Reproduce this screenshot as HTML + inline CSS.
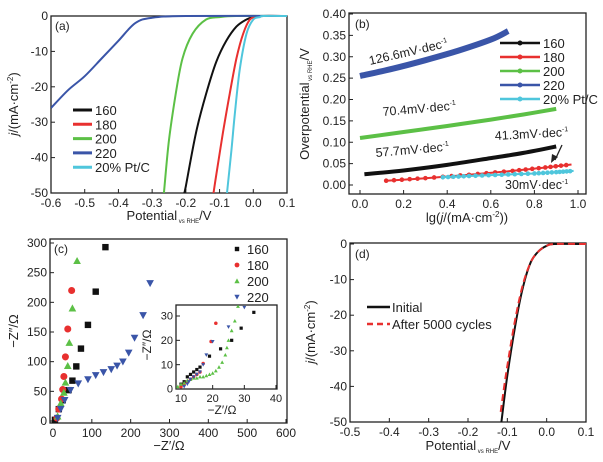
<!DOCTYPE html>
<html><head><meta charset="utf-8"><style>
html,body{margin:0;padding:0;background:#fff}
svg{display:block;font-family:"Liberation Sans",Arial,sans-serif}
</style></head><body>
<svg id="fig" width="603" height="462" viewBox="0 0 603 462" xmlns="http://www.w3.org/2000/svg"></svg>
<script>
// ---- Panel (a) data ----
const aSeries = ['160','180','200','220','20% Pt/C'];
const aColors = ['#111111','#e8302f','#5cc046','#3a55a8','#4fc6dc'];
const aX = [
 [0.1,0.02,0.0,-0.02,-0.05,-0.08,-0.11,-0.14,-0.17,-0.20,-0.205],
 [0.1,0.03,0.01,-0.01,-0.03,-0.05,-0.07,-0.09,-0.11,-0.118],
 [0.1,-0.05,-0.10,-0.14,-0.18,-0.21,-0.23,-0.25,-0.265],
 [0.1,-0.20,-0.30,-0.35,-0.40,-0.45,-0.50,-0.55,-0.60],
 [0.1,0.03,0.02,0.0,-0.02,-0.04,-0.055,-0.065,-0.078]
];
const aY = [
 [0,0,-0.3,-1,-3,-7,-13,-22,-33,-48,-50],
 [0,0,-0.3,-1,-5,-12,-22,-33,-45,-50],
 [0,0,-0.3,-1,-5,-12,-22,-35,-50],
 [0,0,-0.5,-2,-7,-12,-17,-21,-26],
 [0,0,-0.3,-1,-5,-15,-28,-38,-50]
];
const aXTicks = [-0.6,-0.5,-0.4,-0.3,-0.2,-0.1,0.0,0.1];
const aYTicks = [0,-10,-20,-30,-40,-50];
// ---- Panel (b) data ----
const bSeries = ['160','180','200','220','20% Pt/C'];
const bX = [
 [0.02,0.2,0.4,0.6,0.75,0.9],
 [0.12,0.3,0.5,0.7,0.85,0.97],
 [0.0,0.2,0.4,0.6,0.75,0.9],
 [0.0,0.15,0.3,0.45,0.6,0.68],
 [0.38,0.5,0.65,0.8,0.9,0.98]
];
const bY = [
 [0.025,0.034,0.047,0.063,0.075,0.090],
 [0.010,0.016,0.024,0.033,0.041,0.048],
 [0.110,0.124,0.138,0.153,0.165,0.178],
 [0.255,0.272,0.292,0.314,0.340,0.360],
 [0.018,0.021,0.024,0.027,0.030,0.033]
];
const bXTicks = [0.0,0.2,0.4,0.6,0.8,1.0];
const bYTicks = [0.00,0.05,0.10,0.15,0.20,0.25,0.30,0.35,0.40];
// ---- Panel (c) data ----
const cSeries = ['160','180','200','220'];
const cColors = ['#111111','#e8302f','#5cc046','#3a55a8'];
const cX = [
 [5,15,25,40,50,60,72,90,110,135],
 [10,15,22,25,28,32,38,48],
 [12,20,28,32,38,42,50,62],
 [12,20,30,45,65,90,110,130,150,165,180,195,210,232,250]
];
const cY = [
 [2,20,35,52,68,92,122,162,218,293],
 [5,20,37,53,75,108,155,220],
 [8,30,48,65,93,132,190,270],
 [5,20,35,52,63,70,77,82,87,93,100,115,140,178,232]
];
const ciX = [
 [10,11,12,13,14,15,16,19,22.5,26,29,33],
 [10,11,12,13,14,15,16,17,19.5,21],
 [8,9,10,11,12,13,14,15,16,17,18,19,20,21,22,23,24,24.5,25,26,27,28],
 [11,12,12.5,13,14,15,16,17,18,20,25,30]
];
const ciY = [
 [2,3,5,6,7,8,9,13.5,16.5,20,25,31.5],
 [1,2,3,4,5,6,7,10.5,19.5,27],
 [0.5,1,2,2.5,3.5,4,4.5,4.5,5,5,5.5,6,6.5,7.5,9,11,14,17,20,24,28,34],
 [1,2,3,4,5,6,7,10,14,19.5,25.5,33.5]
];
const cXTicks = [0,100,200,300,400,500,600];
const cYTicks = [0,50,100,150,200,250,300];
const ciXTicks = [10,20,30,40];
const ciYTicks = [0,10,20,30];
// ---- Panel (d) data ----
const dSeries = ['Initial','After 5000 cycles'];
const dX = [
 [0.1,0.02,0.0,-0.02,-0.04,-0.06,-0.08,-0.10,-0.115],
 [0.1,0.02,0.0,-0.02,-0.04,-0.062,-0.083,-0.104,-0.118]
];
const dY = [
 [0,0,-0.5,-2,-5,-12,-23,-37,-50],
 [0,0,-0.5,-2,-5,-12,-23,-37,-48]
];
const dXTicks = [-0.5,-0.4,-0.3,-0.2,-0.1,0.0,0.1];
const dYTicks = [0,-10,-20,-30,-40,-50];

const svg = document.getElementById('fig');
const NS = 'http://www.w3.org/2000/svg';
function mk(tag, attrs, parent){const e=document.createElementNS(NS,tag);for(const k in attrs)e.setAttribute(k,attrs[k]);(parent||svg).appendChild(e);return e;}
function txt(s,x,y,attrs,parent){const e=mk('text',Object.assign({x:x,y:y,'font-size':12,fill:'#222'},attrs||{}),parent);e.textContent=s;return e;}
function scale(d0,d1,r0,r1){return v=>r0+(v-d0)*(r1-r0)/(d1-d0);}

function axes(name,L,R,T,B,sx,sy,xt,yt,xfmt,yfmt,fs,bg){
  const g=mk('g',{});
  
  
  mk('rect',{x:L,y:T,width:R-L,height:B-T,fill:bg||'none',stroke:'#222','stroke-width':1.3},g);
  const f=fs||12;
  xt.forEach(v=>{const x=sx(v);mk('line',{x1:x,x2:x,y1:B,y2:B-4,stroke:'#222'},g);
    const t=txt(xfmt(v),x,B+f+2,{'text-anchor':'middle','font-size':f},g);});
  yt.forEach(v=>{const y=sy(v);mk('line',{x1:L,x2:L+4,y1:y,y2:y,stroke:'#222'},g);
    const t=txt(yfmt(v),L-3,y+f/3,{'text-anchor':'end','font-size':f},g);});
  return g;
}
function path(xs,ys,sx,sy){return xs.map((v,i)=>(i?'L':'M')+sx(v).toFixed(1)+','+sy(ys[i]).toFixed(1)).join('');}
function smooth(xs,ys,sx,sy){
  const P=xs.map((v,i)=>[sx(v),sy(ys[i])]);
  let d='M'+P[0][0].toFixed(1)+','+P[0][1].toFixed(1);
  for(let i=0;i<P.length-1;i++){
    const p0=P[Math.max(0,i-1)],p1=P[i],p2=P[i+1],p3=P[Math.min(P.length-1,i+2)];
    const c1=[p1[0]+(p2[0]-p0[0])/6,p1[1]+(p2[1]-p0[1])/6];
    const c2=[p2[0]-(p3[0]-p1[0])/6,p2[1]-(p3[1]-p1[1])/6];
    d+='C'+c1.map(n=>n.toFixed(1)).join(',')+' '+c2.map(n=>n.toFixed(1)).join(',')+' '+p2.map(n=>n.toFixed(1)).join(',');
  }
  return d;
}

// ===== Panel A =====
{const L=51,R=287,T=16,B=193;
 const sx=scale(-0.6,0.1,L,R), sy=scale(0,-50,T,B);
 const clip=mk('clipPath',{id:'ca'});mk('rect',{x:L,y:T-2,width:R-L,height:B-T+2},clip);
 axes('panel-a',L,R,T,B,sx,sy,aXTicks,aYTicks,v=>v.toFixed(1),v=>String(v));
 aSeries.forEach((s,i)=>{const p=mk('path',{d:smooth(aX[i],aY[i],sx,sy),fill:'none',stroke:aColors[i],'stroke-width':2,'clip-path':'url(#ca)'});
  
  const y=110+i*14.3;mk('line',{x1:73,x2:92,y1:y,y2:y,stroke:aColors[i],'stroke-width':3});
  const t=txt(s,95,y+5,{'font-size':13});});
 const l=txt('(a)',55,30,{'font-size':12});
 const xl=txt('',169,220,{'text-anchor':'middle','font-size':13});xl.innerHTML='Potential<tspan font-size="6" dy="3"> vs RHE</tspan><tspan dy="-3">/V</tspan>';
 const yl=txt('',0,0,{'text-anchor':'middle','font-size':13,transform:'translate(18,104) rotate(-90)'});yl.innerHTML='<tspan font-style="italic">j</tspan>/(mA·cm<tspan font-size="8" dy="-5">-2</tspan><tspan dy="5">)</tspan>';
}
// ===== Panel B =====
{const L=349,R=586,T=13,B=194;
 const sx=scale(0,1,360,578), sy=scale(0,0.4,185,14);
 axes('panel-b',L,R,T,B,sx,sy,bXTicks,bYTicks,v=>v.toFixed(1),v=>v.toFixed(2));
 const bc=aColors;const widths=[4,2,4,6,2];
 bSeries.forEach((s,i)=>{const p=mk('path',{d:smooth(bX[i],bY[i],sx,sy),fill:'none',stroke:bc[i],'stroke-width':widths[i]});
  
  if(i===1||i===4){const n=bX[i].length;for(let k=0;k<n-1;k++){for(let f=0;f<1;f+=0.2){const xv=bX[i][k]+(bX[i][k+1]-bX[i][k])*f,yv=bY[i][k]+(bY[i][k+1]-bY[i][k])*f;mk('circle',{cx:sx(xv),cy:sy(yv),r:2.3,fill:bc[i]});}}}
  const y=43+i*14;mk('line',{x1:500,x2:540,y1:y,y2:y,stroke:bc[i],'stroke-width':2.5});mk('circle',{cx:520,cy:y,r:2.5,fill:bc[i]});
  const t=txt(s,543,y+5,{'font-size':13});});
 const ann=[['126.6mV·dec',370,65,-13],['70.4mV·dec',383,116,-5],['57.7mV·dec',376,157,-5],['41.3mV·dec',495,140,-3],['30mV·dec',505,189,0]];
 ann.forEach(a=>{const t=txt('',a[1],a[2],{'font-size':12.5,transform:'rotate('+a[3]+' '+a[1]+' '+a[2]+')'});t.innerHTML=a[0]+'<tspan font-size="7" dy="-5">-1</tspan>';});
 mk('line',{x1:562,x2:555,y1:145,y2:160,stroke:'#222','stroke-width':1.3});mk('path',{d:'M551,163 L552,154 L558,157 Z',fill:'#222'});
 const l=txt('(b)',355,28,{'font-size':12});
 const xl=txt('',467,222,{'text-anchor':'middle','font-size':13});xl.innerHTML='lg(<tspan font-style="italic">j</tspan>/(mA·cm<tspan font-size="8" dy="-5">-2</tspan><tspan dy="5">))</tspan>';
 const yl=txt('',0,0,{'text-anchor':'middle','font-size':13,transform:'translate(309,104) rotate(-90)'});yl.innerHTML='Overpotential<tspan font-size="6" dy="3"> vs RHE</tspan><tspan dy="-3">/V</tspan>';
}
function marker(i,x,y,r,parent){const c=cColors[i];let e;
 if(i===0)e=mk('rect',{x:x-r,y:y-r,width:2*r,height:2*r,fill:c},parent);
 else if(i===1)e=mk('circle',{cx:x,cy:y,r:r*1.1,fill:c},parent);
 else if(i===2)e=mk('path',{d:`M${x},${y-r*1.2}L${x+r*1.2},${y+r}L${x-r*1.2},${y+r}Z`,fill:c},parent);
 else e=mk('path',{d:`M${x},${y+r*1.2}L${x+r*1.2},${y-r}L${x-r*1.2},${y-r}Z`,fill:c},parent);
 return e;}
// ===== Panel C =====
{const L=50,R=287,T=239,B=423;
 const sx=scale(0,600,53,286), sy=scale(0,300,421,243);
 axes('panel-c',L,R,T,B,sx,sy,cXTicks,cYTicks,v=>String(v),v=>String(v));
 cSeries.forEach((s,i)=>{cX[i].forEach((v,k)=>marker(i,sx(v),sy(cY[i][k]),3.2));
  const y=249+i*16;marker(i,237,y,2.2);const t=txt(s,247,y+5,{'font-size':13});});
 const l=txt('(c)',54,253,{'font-size':12});
 const xl=txt('−Z′/Ω',169,450,{'text-anchor':'middle','font-size':13});
 const yl=txt('−Z″/Ω',0,0,{'text-anchor':'middle','font-size':13,transform:'translate(18,331) rotate(-90)'});
 // inset
 const iL=176,iR=277,iT=305,iB=389;
 const ix=scale(10,40,181,276), iy=scale(0,30,389,316);
 axes('inset',iL,iR,iT,iB,ix,iy,ciXTicks,ciYTicks,v=>String(v),v=>String(v),11,'#fff');
 const cl=mk('clipPath',{id:'ci'});mk('rect',{x:iL,y:iT,width:iR-iL,height:iB-iT},cl);
 const pg=mk('g',{'clip-path':'url(#ci)'});
 cSeries.forEach((s,i)=>ciX[i].forEach((v,k)=>marker(i,ix(v),iy(ciY[i][k]),1.6,pg)));
 const ixl=txt('−Z′/Ω',222,414,{'text-anchor':'middle','font-size':12});
 const iyl=txt('−Z″/Ω',0,0,{'text-anchor':'middle','font-size':12,transform:'translate(151,345) rotate(-90)'});
}
// ===== Panel D =====
{const L=350,R=586,T=243,B=422;
 const sx=scale(-0.5,0.1,L,R), sy=scale(0,-50,244,422);
 axes('panel-d',L,R,T,B,sx,sy,dXTicks,dYTicks,v=>v.toFixed(1),v=>String(v));
 const p1=mk('path',{d:smooth(dX[0],dY[0],sx,sy),fill:'none',stroke:'#111','stroke-width':2});
 const p2=mk('path',{d:smooth(dX[1],dY[1],sx,sy),fill:'none',stroke:'#e8302f','stroke-width':2,'stroke-dasharray':'7,4'});
 mk('line',{x1:367,x2:390,y1:307,y2:307,stroke:'#111','stroke-width':2.5});
 mk('line',{x1:367,x2:390,y1:324,y2:324,stroke:'#e8302f','stroke-width':2.5,'stroke-dasharray':'6,4'});
 const t1=txt(dSeries[0],392,312,{'font-size':13});
 const t2=txt(dSeries[1],392,329,{'font-size':13});
 const l=txt('(d)',355,258,{'font-size':12});
 const xl=txt('',468,450,{'text-anchor':'middle','font-size':13});xl.innerHTML='Potential<tspan font-size="6" dy="3"> vs RHE</tspan><tspan dy="-3">/V</tspan>';
 const yl=txt('',0,0,{'text-anchor':'middle','font-size':13,transform:'translate(315,332) rotate(-90)'});yl.innerHTML='<tspan font-style="italic">j</tspan>/(mA·cm<tspan font-size="8" dy="-5">-2</tspan><tspan dy="5">)</tspan>';
}
</script>
</body></html>
